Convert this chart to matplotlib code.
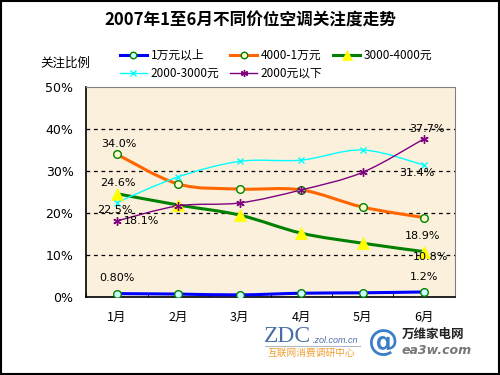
import numpy as np
import matplotlib.pyplot as plt
from matplotlib.path import Path
from matplotlib.patches import PathPatch, Rectangle
from matplotlib.lines import Line2D

plt.rcParams['font.family'] = ['Noto Sans CJK SC', 'DejaVu Sans']

months = ['1月', '2月', '3月', '4月', '5月', '6月']
s_10k_up = [0.8, 0.7, 0.5, 0.9, 1.0, 1.2]
s_4k_10k = [34.0, 26.9, 25.7, 25.5, 21.4, 18.9]
s_3k_4k = [24.6, 21.9, 19.5, 15.2, 12.8, 10.8]
s_2k_3k = [22.5, 28.6, 32.3, 32.6, 35.0, 31.4]
s_2k_down = [18.1, 21.7, 22.4, 25.5, 29.7, 37.7]
names = ['1万元以上', '4000-1万元', '3000-4000元', '2000-3000元', '2000元以下']

series = [s_10k_up, s_4k_10k, s_3k_4k, s_2k_3k, s_2k_down]
styles = [
    dict(color='#0000FF', lw=2.2, marker='o', ms=5.5, mfc='#CCFFFF', mec='#008000', mew=1.0),
    dict(color='#FF6600', lw=2.2, marker='o', ms=5.5, mfc='#FFFFCC', mec='#008000', mew=1.0),
    dict(color='#008000', lw=2.2, marker='^', ms=8, mfc='#FFFF00', mec='#FFFF00', mew=0.5),
    dict(color='#00FFFF', lw=1.0, marker='x', ms=5, mfc='#00FFFF', mec='#00FFFF', mew=1.0),
    dict(color='#800080', lw=1.0, marker=(6, 2, 0), ms=6, mfc='#800080', mec='#800080', mew=1.0),
]
# label text, index, offset in points
labels = [
    [('0.80%', 0, (0, 11.5)), ('1.2%', 5, (0, 10.5))],
    [('34.0%', 0, (1.5, 7.5)), ('18.9%', 5, (-1.5, -13.5))],
    [('24.6%', 0, (1, 7.5)), ('10.8%', 5, (4.5, -3.5))],
    [('22.5%', 0, (-1.5, -5.5)), ('31.4%', 5, (-5, -6))],
    [('18.1%', 0, (18, 0)), ('37.7%', 5, (2, 7))],
]


def smooth_path(xs, ys):
    # excel-like smoothed line through the points (bezier segments)
    pts = np.column_stack([xs, ys]).astype(float)
    n = len(pts)
    verts = [pts[0]]
    codes = [Path.MOVETO]
    for i in range(n - 1):
        p0 = pts[i - 1] if i > 0 else pts[i]
        p1 = pts[i]
        p2 = pts[i + 1]
        p3 = pts[i + 2] if i + 2 < n else pts[i + 1]
        c1 = p1 + (p2 - p0) / 6.0
        c2 = p2 - (p3 - p1) / 6.0
        verts += [c1, c2, p2]
        codes += [Path.CURVE4] * 3
    return Path(verts, codes)


fig = plt.figure(figsize=(5, 3.75), dpi=100)
fig.patch.set_facecolor('white')
fig.add_artist(Rectangle((0.002, 0.003), 0.995, 0.994, transform=fig.transFigure,
                         fill=False, ec='black', lw=1.5))

ax = fig.add_axes([0.172, 0.208, 0.738, 0.56])
ax.set_facecolor('#FBF0DC')
x = np.arange(len(months))

handles = []
for vals, st, name, labs in zip(series, styles, names, labels):
    ax.add_patch(PathPatch(smooth_path(x, vals), fill=False, ec=st['color'],
                           lw=st['lw'], zorder=3))
    ax.plot(x, vals, ls='none', marker=st['marker'], ms=st['ms'], mfc=st['mfc'],
            mec=st['mec'], mew=st['mew'], zorder=4)
    handles.append(Line2D([], [], color=st['color'], lw=st['lw'], marker=st['marker'],
                          ms=st['ms'] * 0.85, mfc=st['mfc'], mec=st['mec'], mew=st['mew']))
    for txt, i, off in labs:
        ax.annotate(txt, (x[i], vals[i]), xytext=off, textcoords='offset points',
                    ha='center', va='center', fontsize=8, family='DejaVu Sans', zorder=5)

ax.set_xlim(-0.5, 5.5)
ax.set_ylim(0, 50)
ax.set_yticks([0, 10, 20, 30, 40, 50])
ax.set_yticklabels(['0%', '10%', '20%', '30%', '40%', '50%'], family='DejaVu Sans')
ax.set_xticks(x)
ax.set_xticklabels(months)
ax.set_xticks(np.arange(-0.5, 6, 1), minor=True)
ax.tick_params(axis='x', which='major', length=0, pad=10, labelsize=9)
ax.tick_params(axis='x', which='minor', length=3, direction='in')
ax.tick_params(axis='y', length=0, pad=9, labelsize=9)
for yv in [10, 20, 30, 40]:
    ax.axhline(yv, color='black', lw=0.9, ls=(0, (3, 3)), zorder=1)
ax.spines['top'].set_color('#808080')
ax.spines['right'].set_color('#808080')
ax.spines['left'].set_linewidth(1.2)
ax.spines['bottom'].set_linewidth(1.2)

fig.text(0.5, 0.945, '2007年1至6月不同价位空调关注度走势', ha='center', va='center',
         fontsize=12, fontweight='bold')
fig.text(0.13, 0.832, '关注比例', ha='center', va='center', fontsize=9)
# row-major legend order
order = [0, 3, 1, 4, 2]
fig.legend([handles[i] for i in order], [names[i] for i in order], loc='upper left',
           bbox_to_anchor=(0.228, 0.885), ncol=3, frameon=False, fontsize=8.5,
           handlelength=2.3, columnspacing=0.9, handletextpad=0.3, labelspacing=0.4,
           borderpad=0)

# logos
fig.text(0.528, 0.104, 'ZDC', fontsize=17, family='Liberation Serif', color='#4A6FA5',
         ha='left', va='center')
fig.text(0.626, 0.091, '.zol.com.cn', fontsize=6.5, color='#4A6FA5', style='italic',
         family='Liberation Sans', ha='left', va='center')
fig.add_artist(Line2D([0.53, 0.72], [0.077, 0.077], transform=fig.transFigure,
                      color='#B0B8C8', lw=0.8))
fig.text(0.622, 0.058, '互联网消费调研中心', fontsize=7, color='#F0A030',
         ha='center', va='center')
fig.text(0.766, 0.088, '@', fontsize=22, color='#3A7FC8', ha='center', va='center',
         fontweight='bold', family='DejaVu Sans')
fig.text(0.803, 0.108, '万维家电网', fontsize=9, fontweight='bold', color='#222222',
         ha='left', va='center')
fig.text(0.803, 0.066, 'ea3w.com', fontsize=9, fontweight='bold', style='italic',
         family='DejaVu Sans', color='#777777', ha='left', va='center')

fig.savefig('out.png', dpi=100)
